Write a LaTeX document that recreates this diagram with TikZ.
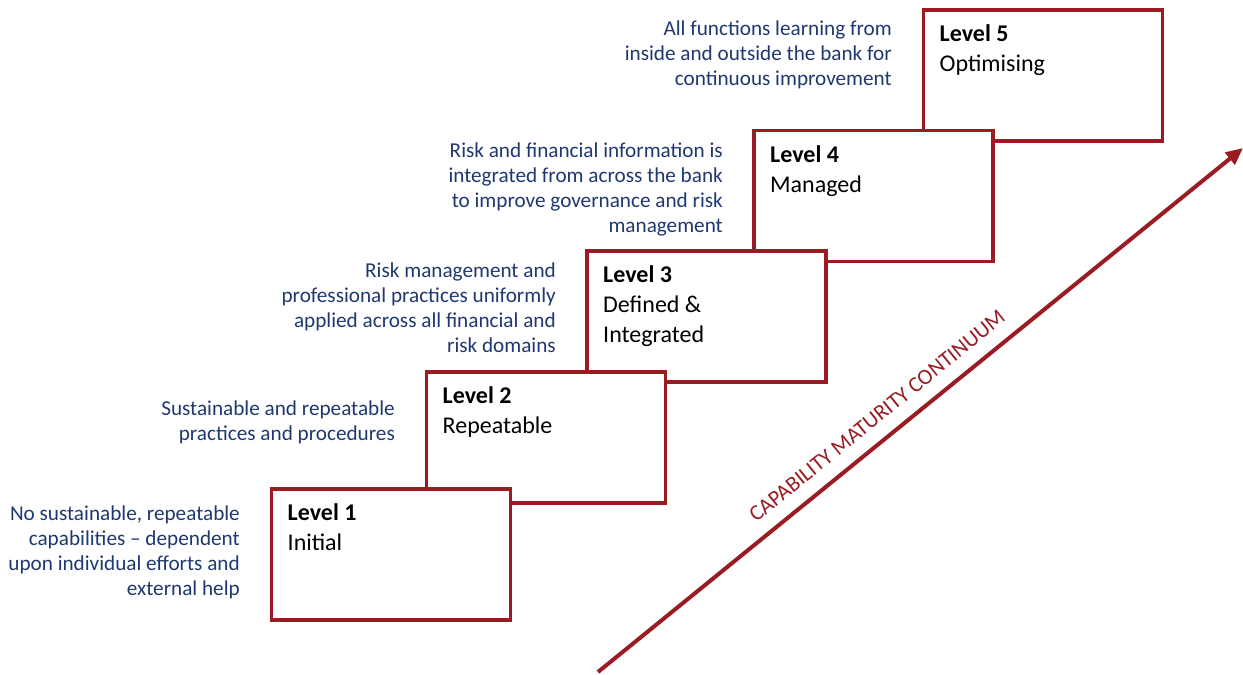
\documentclass[tikz,border=0pt]{standalone}
\usepackage{fontspec}
\setmainfont{Carlito}
\usetikzlibrary{arrows.meta,calc}
\definecolor{stepred}{RGB}{155,27,35}
\definecolor{descblue}{RGB}{31,56,112}
\begin{document}
\begin{tikzpicture}[x=1pt,y=-1pt,
  levelbox/.style={draw=stepred, line width=3.5pt, fill=white,
    minimum width=239pt, minimum height=131pt, inner sep=0pt, outer sep=0pt},
  leveltext/.style={anchor=base west, align=left, inner sep=0pt,
    font=\fontsize{24}{30}\selectfont},
  desc/.style={anchor=base east, align=right, inner sep=0pt, text=descblue,
    font=\fontsize{21.2}{25}\selectfont},
  scalearrow/.style={draw=stepred, line width=4pt,
    -{Triangle[length=17pt,width=15pt]}},
  scalelabel/.style={text=stepred, inner sep=0pt,
    font=\fontsize{22}{22}\selectfont}]
\useasboundingbox (0,0) rectangle (1243,675);

% growth arrow behind the steps
\coordinate (arrowstart) at (598,672);
\coordinate (arrowend) at (1243,148);
\draw[scalearrow] (arrowstart) -- (arrowend);
\node[scalelabel, rotate=39] (scale) at (877,416) {CAPABILITY MATURITY CONTINUUM};

% steps, drawn from the top down so lower levels sit in front;
% each text node is placed by the baseline of its last line
\node[levelbox] (b5) at (1043,75.5) {};
\node[leveltext] (t5) at ($(b5.north west)+(16,61.5)$) {\textbf{Level 5}\\Optimising};
\node[levelbox] (b4) at (873.5,196) {};
\node[leveltext] (t4) at ($(b4.north west)+(16,61.5)$) {\textbf{Level 4}\\Managed};
\node[levelbox] (b3) at (706.5,316.5) {};
\node[leveltext] (t3) at ($(b3.north west)+(16,91.5)$) {\textbf{Level 3}\\Defined \&\\Integrated};
\node[levelbox] (b2) at (546,437.5) {};
\node[leveltext] (t2) at ($(b2.north west)+(16,61.5)$) {\textbf{Level 2}\\Repeatable};
\node[levelbox] (b1) at (391,554.5) {};
\node[leveltext] (t1) at ($(b1.north west)+(16,61.5)$) {\textbf{Level 1}\\Initial};

% descriptions to the left of each step
\node[desc] (d5) at (892,85) {All functions learning from\\inside and outside the bank for\\continuous improvement};
\node[desc] (d4) at (723,232) {Risk and financial information is\\integrated from across the bank\\to improve governance and risk\\management};
\node[desc] (d3) at (556,352) {Risk management and\\professional practices uniformly\\applied across all financial and\\risk domains};
\node[desc] (d2) at (395,440) {Sustainable and repeatable\\practices and procedures};
\node[desc] (d1) at (240,595) {No sustainable, repeatable\\capabilities -- dependent\\upon individual efforts and\\external help};
\end{tikzpicture}
\end{document}
